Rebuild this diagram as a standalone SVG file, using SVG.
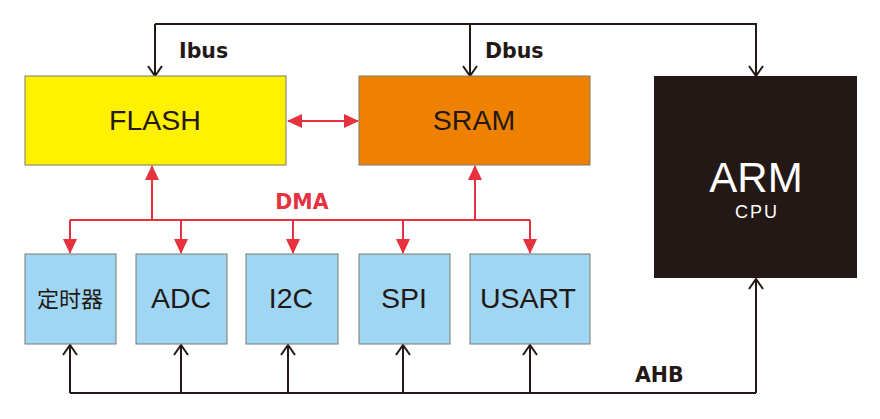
<svg xmlns="http://www.w3.org/2000/svg" width="880" height="419" viewBox="0 0 880 419">
<style>
.box{stroke:#7a7a6a;stroke-width:1}
.lbl{font-family:"Liberation Sans",Arial,sans-serif;font-size:28.5px;fill:#231815;text-anchor:middle}
.bus{font-family:"DejaVu Sans",sans-serif;font-weight:bold;font-size:20.5px;fill:#231815}
.blk{fill:none;stroke:#231815;stroke-width:2}
.red{fill:none;stroke:#e6323f;stroke-width:2}
</style>
<defs>
<marker id="v" viewBox="0 0 12 16" refX="11" refY="8" markerWidth="12" markerHeight="16" markerUnits="userSpaceOnUse" orient="auto">
<path d="M1,1 L11,8 L1,15" fill="none" stroke="#231815" stroke-width="2"/>
</marker>
<marker id="r" viewBox="0 0 15 14" refX="14" refY="7" markerWidth="15" markerHeight="14" markerUnits="userSpaceOnUse" orient="auto-start-reverse">
<path d="M0,0 L15,7 L0,14 Z" fill="#e6323f"/>
</marker>
</defs>
<rect width="880" height="419" fill="#fff"/>
<g id="connectors">
<path class="blk" d="M155,24 H756 V76" marker-end="url(#v)"/>
<path class="blk" d="M155,24 V76" marker-end="url(#v)"/>
<path class="blk" d="M470,24 V76" marker-end="url(#v)"/>
<path class="red" d="M288,121 H358" marker-start="url(#r)" marker-end="url(#r)"/>
<path class="red" d="M70,220 H530"/>
<path class="red" d="M152,220 V166" marker-end="url(#r)"/>
<path class="red" d="M475,220 V166" marker-end="url(#r)"/>
<path class="red" d="M70,220 V253" marker-end="url(#r)"/>
<path class="red" d="M181,220 V253" marker-end="url(#r)"/>
<path class="red" d="M293,220 V253" marker-end="url(#r)"/>
<path class="red" d="M403,220 V253" marker-end="url(#r)"/>
<path class="red" d="M530,220 V253" marker-end="url(#r)"/>
<path class="blk" d="M70,393 H756"/>
<path class="blk" d="M70,393 V345" marker-end="url(#v)"/>
<path class="blk" d="M181,393 V345" marker-end="url(#v)"/>
<path class="blk" d="M288,393 V345" marker-end="url(#v)"/>
<path class="blk" d="M403,393 V345" marker-end="url(#v)"/>
<path class="blk" d="M530,393 V345" marker-end="url(#v)"/>
<path class="blk" d="M756,393 V279" marker-end="url(#v)"/>
<text class="bus" x="179" y="58">Ibus</text>
<text class="bus" x="485" y="58">Dbus</text>
<text class="bus" x="635" y="382">AHB</text>
<text class="bus" x="302" y="209" text-anchor="middle" style="fill:#e6323f">DMA</text>
</g>
<g id="flash"><rect class="box" x="25" y="76" width="261" height="89" fill="#fff100"/><text class="lbl" x="155" y="130">FLASH</text></g>
<g id="sram"><rect class="box" x="359" y="76" width="231" height="89" fill="#ee8200"/><text class="lbl" x="474" y="130">SRAM</text></g>
<g id="arm"><rect x="654" y="76" width="203" height="202" fill="#231815"/><text x="756" y="192" font-family="Liberation Sans,Arial,sans-serif" font-size="42" fill="#fff" text-anchor="middle">ARM</text><text x="757" y="218" font-family="Liberation Sans,Arial,sans-serif" font-size="18" letter-spacing="2" fill="#fff" text-anchor="middle">CPU</text></g>
<g id="timer"><rect class="box" x="25" y="254" width="91" height="90" fill="#9fd6f4"/><text class="lbl" x="70" y="307" style="font-size:22px;font-family:'Noto Sans CJK SC',sans-serif">定时器</text></g>
<g id="adc"><rect class="box" x="136" y="254" width="91" height="90" fill="#9fd6f4"/><text class="lbl" x="181" y="308">ADC</text></g>
<g id="i2c"><rect class="box" x="246" y="254" width="92" height="90" fill="#9fd6f4"/><text class="lbl" x="291" y="308">I2C</text></g>
<g id="spi"><rect class="box" x="359" y="254" width="91" height="90" fill="#9fd6f4"/><text class="lbl" x="404" y="308">SPI</text></g>
<g id="usart"><rect class="box" x="470" y="254" width="120" height="90" fill="#9fd6f4"/><text class="lbl" x="528" y="308">USART</text></g>
</svg>
